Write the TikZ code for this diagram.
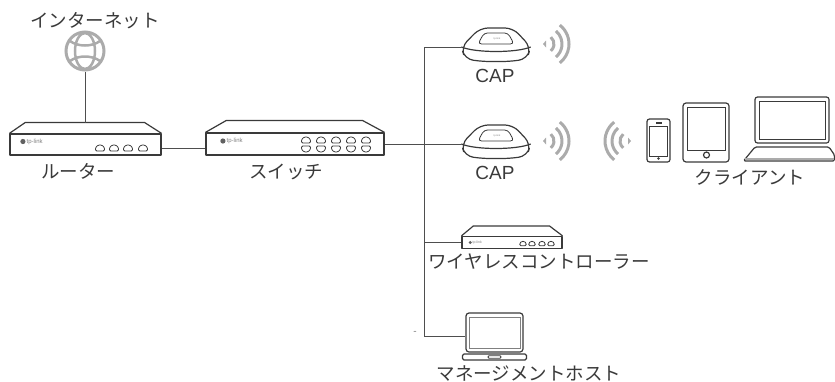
\documentclass[tikz,border=0pt]{standalone}
\usepackage{fontspec}
\setmainfont{Liberation Sans}
\newfontfamily\jpfont{Noto Sans CJK JP}
\usetikzlibrary{positioning}

\definecolor{inkdark}{HTML}{3A3A3A}
\definecolor{wavegray}{HTML}{ABABAB}

\begin{document}
\begin{tikzpicture}[
        x=1pt, y=-1pt,
        inner sep=0pt,
        device/.style={draw=inkdark, line width=1.2pt, line join=round},
        devbox/.style={device, rectangle, fill=white},
        thinbox/.style={draw=inkdark, line width=0.8pt},
        link/.style={draw=inkdark!90, line width=1pt},
        tag/.style={font=\jpfont\fontsize{18.5}{20}\selectfont, text=inkdark},
        captag/.style={font=\fontsize{19}{21}\selectfont, text=inkdark},
        brand/.style={font=\fontsize{#1}{#1}\selectfont, text=gray},
        port/.pic={
            \draw[thinbox, rounded corners=1.2pt] (-4.5,3) -- (-4.5,-0.5) -- (-1.8,-3) -- (1.8,-3) -- (4.5,-0.5) -- (4.5,3) -- cycle;
        },
        cap/.pic={
            \node[minimum width=69pt, minimum height=33pt] (body) at (0,0) {};
            \draw[device, rounded corners=8pt] (body.west) -- (-16,-19) -- (17,-19) -- (body.east) -- (31,12) -- (14,14.5) -- (-14,14.5) -- (-31,12) -- cycle;
            \draw[device] (body.west) .. controls (-20,6) and (20,6) .. (body.east);
            \draw[thinbox, rounded corners=3.5pt] (-18,-3) -- (-12,-14) -- (12,-14) -- (18,-3) -- cycle;
            \node[brand=2.5] at (1,-8) {tp-link};
        },
        signal/.pic={
            \fill[wavegray] (-2,0) -- (1,-3.5) -- (1,3.5) -- cycle;
            \foreach \radius/\angle in {9/50, 17/50, 24/52}
                \draw[wavegray, line width=3pt] (\angle:\radius pt) arc[start angle=\angle, end angle=-\angle, radius=\radius pt];
        },
    ]
    \useasboundingbox (0,0) rectangle (835,381);

    % internet
    \node[circle, draw=wavegray, line width=3pt, minimum size=38pt] (globe) at (85,51) {};
    \draw[wavegray, line width=2.5pt] (globe.center) ellipse[x radius=10pt, y radius=18pt];
    \draw[wavegray, line width=2.5pt] (70,41) .. controls (78,47) and (92,47) .. (100,41);
    \draw[wavegray, line width=2.5pt] (70,61) .. controls (78,55) and (92,55) .. (100,61);
    \node[tag] (internet) at (95,21) {インターネット};

    % router
    \node[devbox, minimum width=151pt, minimum height=21pt] (router) at (85.5,144.5) {};
    \draw[device] (router.north west) -- ++(16,-11) -- ++(119,0) -- (router.north east);
    \coordinate (router-roof) at (85,123);
    \node[brand=6, right=17pt of router.west, yshift=3pt] (router-brand) {tp-link};
    \fill[inkdark!80] ([xshift=-3.5pt]router-brand.west) circle[radius=2.6pt];
    \foreach \xpos in {100,114,128,143}
        \pic at (\xpos,148) {port};
    \node[tag] (router-tag) at (78,171) {ルーター};

    % switch
    \node[devbox, minimum width=178pt, minimum height=22pt] (switch) at (295,144) {};
    \draw[device] (switch.north west) -- ++(21,-12) -- ++(136,0) -- (switch.north east);
    \node[brand=6, right=21pt of switch.west, yshift=3pt] (switch-brand) {tp-link};
    \fill[inkdark!80] ([xshift=-3.5pt]switch-brand.west) circle[radius=2.6pt];
    \foreach \xpos in {306,321,336,351,366} {
        \pic at (\xpos,140) {port};
        \pic[yscale=-1] at (\xpos,149) {port};
    }
    \node[tag] (switch-tag) at (286,172) {スイッチ};

    % access points
    \pic (cap1) at (496,47) {cap};
    \pic (cap2) at (496,144) {cap};
    \node[captag] (cap1-tag) at (495,76) {CAP};
    \node[captag] (cap2-tag) at (495,173) {CAP};
    \pic at (545,44) {signal};
    \pic at (545,141) {signal};
    \pic[xscale=-1] at (629,141) {signal};

    % clients
    \node[device, rounded corners=2.5pt, minimum width=23pt, minimum height=43pt] (phone) at (658.5,140.5) {};
    \node[thinbox, minimum width=18pt, minimum height=30pt] (phone-screen) at (658.5,141) {};
    \fill[inkdark] (655.5,122) rectangle (661.5,123.5);
    \fill[inkdark] (658.5,158.5) circle[radius=1.3pt];
    \node[device, rounded corners=3pt, minimum width=46pt, minimum height=59pt] (tablet) at (706,132.5) {};
    \node[thinbox, minimum width=38pt, minimum height=43pt] (tablet-screen) at (706,128.5) {};
    \draw[device] (706.5,155) circle[radius=3pt];
    \node[device, rounded corners=2.5pt, minimum width=74pt, minimum height=46pt] (laptop) at (792,120) {};
    \node[thinbox, minimum width=66pt, minimum height=38pt] (laptop-screen) at (792,120) {};
    \draw[device, rounded corners=1.5pt] (743.5,161) -- (755,147) -- (829,147) -- (834.5,155) -- (834.5,161) -- cycle;
    \draw[wavegray, line width=1.5pt] (745,159) -- (834,159);
    \node[tag] (client-tag) at (750,177) {クライアント};

    % controller
    \node[devbox, minimum width=100pt, minimum height=12pt] (controller) at (512,242.5) {};
    \draw[device] (controller.north west) -- ++(12,-10) -- ++(76,0) -- (controller.north east);
    \node[brand=3.5, right=11pt of controller.west] (controller-brand) {tp-link};
    \fill[inkdark!80] ([xshift=-2.2pt]controller-brand.west) circle[radius=1.7pt];
    \foreach \xpos in {523,532,542,551}
        \pic[scale=0.72] at (\xpos,243.5) {port};
    \node[tag] (controller-tag) at (539,262) {ワイヤレスコントローラー};

    % management host
    \node[device, rounded corners=3pt, minimum width=57pt, minimum height=39pt] (host) at (494.5,332.5) {};
    \node[draw=gray, line width=0.6pt, minimum width=51pt, minimum height=31pt] (host-screen) at (494.5,332.5) {};
    \node[devbox, rounded corners=1.5pt, minimum width=64pt, minimum height=6pt] (host-base) at (494.5,357) {};
    \node[thinbox, rounded corners=1pt, minimum width=13pt, minimum height=2.5pt] (host-notch) at (494.5,357) {};
    \node[tag] (host-tag) at (529,373) {マネージメントホスト};
    \node[font=\fontsize{10}{10}\selectfont, text=gray] (stray) at (415,333) {-};

    % connectors
    \coordinate (trunk-top) at (424,47);
    \coordinate (trunk-bottom) at (424,336);
    \draw[link] (globe.south) -- (router-roof);
    \draw[link] ([yshift=-3.5pt]router.east) -- ([yshift=-4pt]switch.west);
    \draw[link] (switch.east) -- (cap2body.west);
    \draw[link] (cap1body.west) -- (trunk-top) -- (trunk-bottom) -- ([yshift=-3.5pt]host.west);
    \draw[link] (controller.west) -- (controller.west -| trunk-top);
\end{tikzpicture}
\end{document}
